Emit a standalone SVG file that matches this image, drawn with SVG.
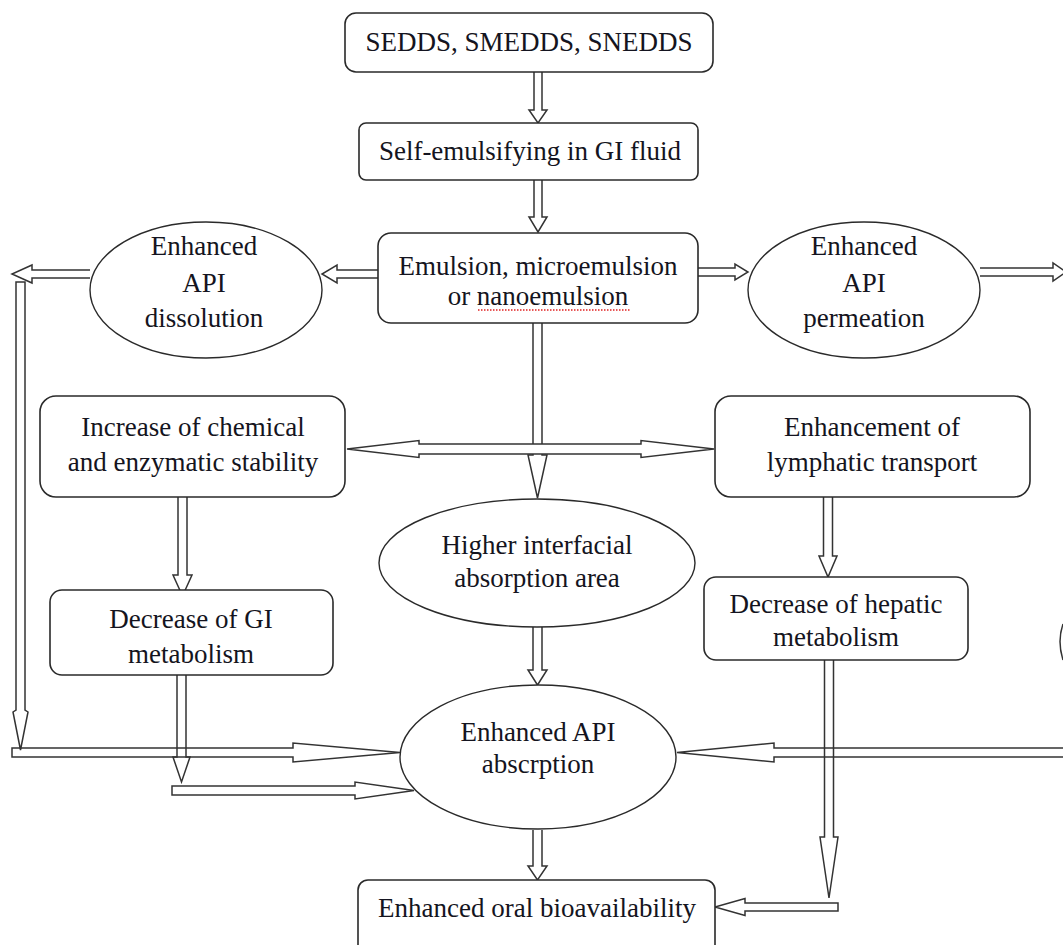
<svg xmlns="http://www.w3.org/2000/svg" width="1063" height="945" viewBox="0 0 1063 945">
<style>
.box{fill:#fff;stroke:#2a2a2a;stroke-width:1.6}
.ell{fill:#fff;stroke:#2a2a2a;stroke-width:1.4}
.t{font-family:"Liberation Serif","Times New Roman",serif;font-size:27px;fill:#141420;text-anchor:middle}
.ar{fill:#fff;stroke:#333;stroke-width:1.5;stroke-linejoin:miter}
.arn{fill:none;stroke:#333;stroke-width:1.5}
</style>
<rect width="1063" height="945" fill="#fff"/>
<g id="connectors">
<path class="ar" d="M534,72 V110 H529 L538,123 L547,110 H542 V72"/>
<path class="ar" d="M534,180 V217 H529 L538,232 L547,217 H542 V180"/>
<path class="ar" d="M378,270 H337 V265 L322,274 L337,283 V278 H378"/>
<path class="ar" d="M90,270 H32 V265 L12,274 L32,283 V278 H90"/>
<path class="arn" d="M16,282 H25 V710 L28,712 L20.5,750 L13,712 L16,710 Z"/>
<path class="ar" d="M698,268 H735 V264 L748,272 L735,280 V276 H698"/>
<path class="ar" d="M980,268 H1053 V263 L1066,272 L1053,281 V276 H980"/>
<path class="ar" d="M533,323 V455 H528 L537.5,498 L547,455 H542 V323"/>
<path class="ar" d="M347,449 L419,440.5 V444 H641 V440.5 L714,449 L641,457.5 V454 H419 V457.5 Z"/>
<path class="ar" d="M178,497 V575 H173 L182.5,596 L192,575 H187 V497"/>
<path class="arn" d="M177,675 V757 H173 L181.5,782 L190,757 H186 V675"/>
<path class="arn" d="M12,748 V757 H293 V762 L400,752.5 L293,743 V748 Z"/>
<path class="ar" d="M172,786 V795 H355 V799 L414,790.5 L355,782 V786 Z"/>
<path class="ar" d="M533,627 V670 H528 L537.5,685 L547,670 H542 V627"/>
<path class="ar" d="M533,830 V866 H528 L537.5,880 L547,866 H542 V830"/>
<path class="ar" d="M823.5,497 V556 H819 L828,577 L837,556 H832.5 V497"/>
<path class="arn" d="M1066,748 H774 V743 L677,752.5 L774,762 V757 H1066"/>
<path class="arn" d="M824.5,660 V837 H820 L829,898 L838,837 H833.5 V660"/>
<path class="ar" d="M838,903 V911 H745 V915.5 L715,907 L745,898.5 V903 Z"/>
<path class="arn" d="M1063,624 Q1057,641 1063,660"/>
</g>
<g id="n1"><rect class="box" x="345" y="13" width="368" height="59" rx="11"/><text class="t" x="529" y="51">SEDDS, SMEDDS, SNEDDS</text></g>
<g id="n2"><rect class="box" x="359" y="123" width="339" height="57" rx="7"/><text class="t" x="530" y="160">Self-emulsifying in GI fluid</text></g>
<g id="n3"><rect class="box" x="378" y="233" width="320" height="90" rx="13"/><text class="t" x="538" y="275">Emulsion, microemulsion</text><text class="t" x="538" y="305">or nanoemulsion</text><path d="M478,310 H630" stroke="#e02020" stroke-width="1.3" stroke-dasharray="1.5 1.5" fill="none"/></g>
<g id="n4"><ellipse class="ell" cx="206" cy="290" rx="116" ry="68"/><text class="t" x="204" y="255">Enhanced</text><text class="t" x="204" y="292">API</text><text class="t" x="204" y="327">dissolution</text></g>
<g id="n5"><ellipse class="ell" cx="864" cy="290" rx="116" ry="68"/><text class="t" x="864" y="255">Enhanced</text><text class="t" x="864" y="292">API</text><text class="t" x="864" y="327">permeation</text></g>
<g id="n6"><rect class="box" x="40" y="396" width="305" height="101" rx="16"/><text class="t" x="193" y="436">Increase of chemical</text><text class="t" x="193" y="471">and enzymatic stability</text></g>
<g id="n7"><rect class="box" x="715" y="396" width="315" height="101" rx="16"/><text class="t" x="872" y="436">Enhancement of</text><text class="t" x="872" y="471">lymphatic transport</text></g>
<g id="n8"><ellipse class="ell" cx="537" cy="563" rx="158" ry="64"/><text class="t" x="537" y="554">Higher interfacial</text><text class="t" x="537" y="587">absorption area</text></g>
<g id="n9"><rect class="box" x="50" y="590" width="283" height="85" rx="12"/><text class="t" x="191" y="628">Decrease of GI</text><text class="t" x="191" y="663">metabolism</text></g>
<g id="n10"><rect class="box" x="704" y="577" width="264" height="83" rx="12"/><text class="t" x="836" y="613">Decrease of hepatic</text><text class="t" x="836" y="646">metabolism</text></g>
<g id="n11"><ellipse class="ell" cx="538" cy="757" rx="138" ry="72"/><text class="t" x="538" y="741">Enhanced API</text><text class="t" x="538" y="773">abscrption</text></g>
<g id="n12"><rect class="box" x="358" y="880" width="357" height="90" rx="10"/><text class="t" x="537" y="917">Enhanced oral bioavailability</text></g>
</svg>
